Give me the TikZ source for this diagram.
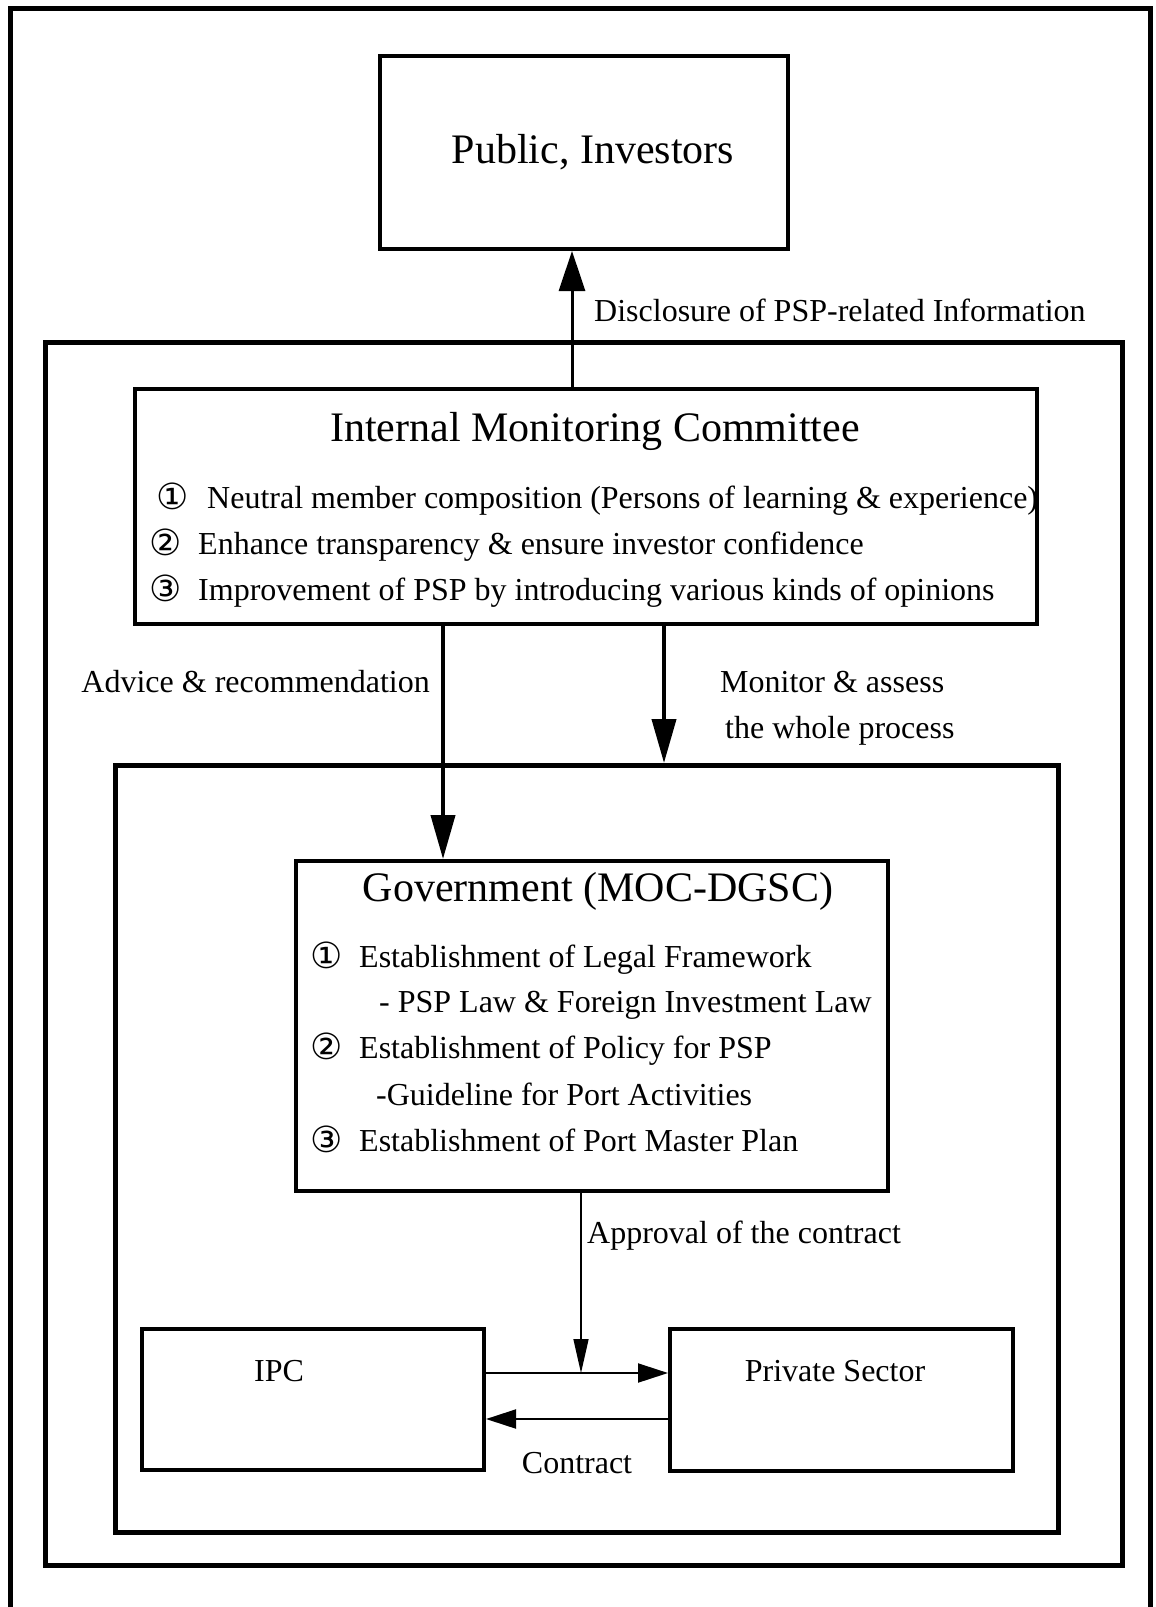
\documentclass[tikz,border=0pt]{standalone}
\usepackage{fontspec}
\setmainfont{Liberation Serif}
\newfontfamily\circfont{DejaVu Sans}
\usetikzlibrary{arrows.meta}

\begin{document}
\begin{tikzpicture}[x=1pt,y=-1pt,
frame/.style={draw,line width=5pt,inner sep=0pt,anchor=north west},
box/.style={draw,line width=4pt,inner sep=0pt,anchor=north west},
title/.style={font=\fontsize{42}{50}\selectfont,inner sep=0pt,anchor=base},
txt/.style={font=\fontsize{32}{38}\selectfont,inner sep=0pt,anchor=base west},
num/.style={font=\circfont\fontsize{36}{40}\selectfont,inner sep=0pt,anchor=base west},
uparrow/.style={line width=3pt,-{Triangle[length=40pt,width=26pt]}},
bigarrow/.style={line width=4pt,-{Triangle[length=44pt,width=24pt]}},
thinarrow/.style={line width=1.5pt,-{Triangle[length=34pt,width=15pt]}},
midarrow/.style={line width=2pt,-{Triangle[length=30pt,width=19pt]}}]
\useasboundingbox (0,0) rectangle (1156,1607);
\draw[line width=5pt] (10,1620) -- (10,8) -- (1150,8) -- (1150,1620);
\node[frame,minimum width=1077pt,minimum height=1223pt] (monzone) at (43,340) {};
\node[frame,minimum width=943pt,minimum height=767pt] (govzone) at (113,763) {};
\node[box,minimum width=408pt,minimum height=193pt] (pub) at (378,54) {};
\node[box,minimum width=902pt,minimum height=235pt] (imc) at (133,387) {};
\node[box,minimum width=592pt,minimum height=330pt] (gov) at (294,859) {};
\node[box,minimum width=342pt,minimum height=141pt] (ipc) at (140,1327) {};
\node[box,minimum width=343pt,minimum height=142pt] (priv) at (668,1327) {};
\node[title] (pubtxt) at (593,163) {Public, Investors};
\node[txt] (disc) at (594,321) {Disclosure of PSP-related Information};
\node[title] (imctxt) at (595,441) {Internal Monitoring Committee};
\node[num] (in1) at (156,509) {①};
\node[txt] (it1) at (207,508) {Neutral member composition (Persons of learning \& experience)};
\node[num] (in2) at (149,555) {②};
\node[txt] (it2) at (198,554) {Enhance transparency \& ensure investor confidence};
\node[num] (in3) at (149,601) {③};
\node[txt] (it3) at (198,600) {Improvement of PSP by introducing various kinds of opinions};
\node[txt,anchor=base east] (advice) at (430,692) {Advice \& recommendation};
\node[txt] (mon1) at (720,692) {Monitor \& assess};
\node[txt] (mon2) at (725,738) {the whole process};
\node[title] (govtxt) at (598,901) {Government (MOC-DGSC)};
\node[num] (gn1) at (310,968) {①};
\node[txt] (gt1) at (359,967) {Establishment of Legal Framework};
\node[txt] (gs1) at (379,1012) {- PSP Law \& Foreign Investment Law};
\node[num] (gn2) at (310,1059) {②};
\node[txt] (gt2) at (359,1058) {Establishment of Policy for PSP};
\node[txt] (gs2) at (376,1105) {-Guideline for Port Activities};
\node[num] (gn3) at (310,1152) {③};
\node[txt] (gt3) at (359,1151) {Establishment of Port Master Plan};
\node[txt] (appr) at (587,1243) {Approval of the contract};
\node[txt,anchor=base] (ipctxt) at (279,1381) {IPC};
\node[txt,anchor=base] (privtxt) at (835,1381) {Private Sector};
\node[txt,anchor=base] (contr) at (577,1473) {Contract};
\coordinate (pubx) at (572,0);
\coordinate (advx) at (443,0);
\coordinate (monx) at (664,0);
\coordinate (meet) at (581,1373);
\coordinate (backy) at (0,1419);
\draw[uparrow] (imc.north -| pubx) -- (pub.south -| pubx);
\draw[bigarrow] (imc.south -| advx) -- (gov.north -| advx);
\draw[bigarrow] (imc.south -| monx) -- (govzone.north -| monx);
\draw[thinarrow] (gov.south -| meet) -- (meet);
\draw[midarrow] (ipc.east |- meet) -- (priv.west |- meet);
\draw[midarrow] (priv.west |- backy) -- (ipc.east |- backy);
\end{tikzpicture}
\end{document}
